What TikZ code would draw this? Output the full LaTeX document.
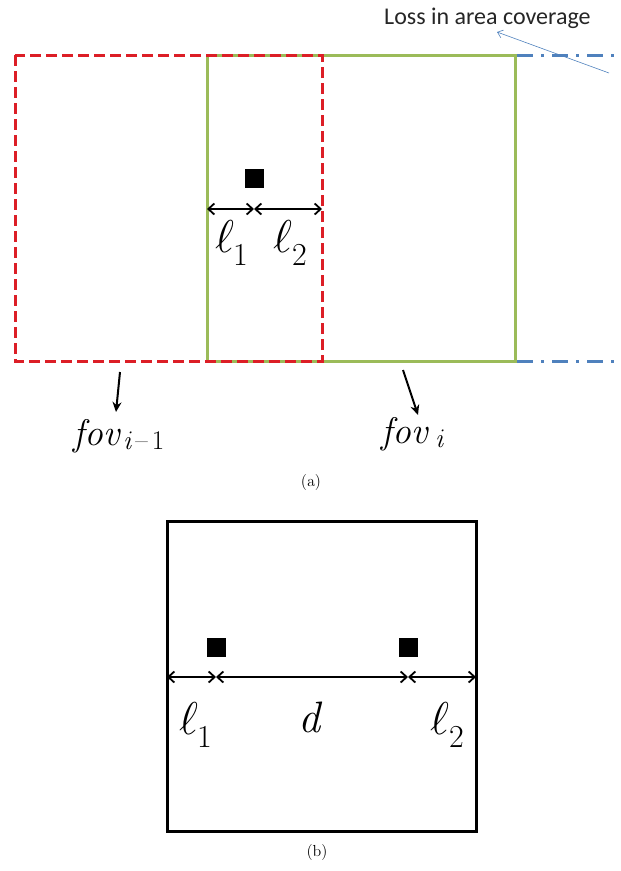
\documentclass[tikz,border=0pt]{standalone}
\usepackage{fix-cm}
\usepackage{fontspec}
\setmainfont{Liberation Serif}
\newfontfamily\calib{Carlito}
\newcommand{\lmitalic}{\usefont{OT1}{cmr}{m}{it}}
\newcommand{\lmupright}{\usefont{OT1}{cmr}{m}{n}}
\usetikzlibrary{arrows.meta}
\definecolor{redfov}{RGB}{220,30,38}
\definecolor{greenfov}{RGB}{155,187,89}
\definecolor{bluefov}{RGB}{79,129,189}
\tikzset{
  x=1pt,y=-1pt,
  redframe/.style={draw=redfov,line width=3pt,dash pattern=on 11pt off 5pt},
  greenframe/.style={draw=greenfov,line width=3pt},
  blueline/.style={draw=bluefov,line width=3pt,dash pattern=on 16pt off 8pt on 3pt off 8pt},
  sensor/.style={fill=black,minimum size=19pt,inner sep=0pt},
  dimarrow/.style={line width=1.8pt,{Straight Barb[length=6pt,width=11pt]}-{Straight Barb[length=6pt,width=11pt]}},
  ptrarrow/.style={line width=2pt,-{Stealth[length=10pt,width=9pt]}},
  ellabel/.style={font=\fontsize{46}{50}\selectfont,inner sep=0pt,anchor=base west},
  sublabel/.style={font=\fontsize{32}{34}\lmupright,inner sep=0pt,anchor=base west},
  dlabel/.style={font=\fontsize{44}{48}\lmitalic,inner sep=0pt,anchor=base west},
  fovlabel/.style={font=\fontsize{37}{40}\lmitalic,inner sep=0pt,anchor=base west},
  fovsub/.style={font=\fontsize{27}{29}\lmitalic,inner sep=0pt,anchor=base west},
  caption/.style={font=\fontsize{16}{18}\lmupright,inner sep=0pt}
}
\begin{document}
\begin{tikzpicture}
\useasboundingbox (0,0) rectangle (621,871);
% (a)
\coordinate (r1) at (15,55); \coordinate (r2) at (322,361);
\coordinate (g1) at (207,55); \coordinate (g2) at (515,361);
\draw[greenframe] (g1) rectangle (g2);
\draw[redframe] (r1) rectangle (r2);
\coordinate (bt1) at (517,55); \coordinate (bt2) at (621,55);
\coordinate (bb1) at (517,361); \coordinate (bb2) at (621,361);
\draw[blueline] (bt1) -- (bt2);
\draw[blueline] (bb1) -- (bb2);
\node[anchor=base west,inner sep=0pt,font=\calib\fontsize{24}{28}\selectfont,text=black!85] (loss) at (384,24) {Loss in area coverage};
\coordinate (lossTail) at (609,73);
\coordinate (lossTip) at (497,32);
\draw[bluefov,line width=0.6pt,-{Straight Barb[length=5pt,width=8pt]}] (lossTail) -- (lossTip);
\node[sensor] (s0) at (254.5,178.5) {};
\coordinate (aL) at (207,209); \coordinate (aM) at (254,209); \coordinate (aR) at (322,209);
\draw[dimarrow] (aL) -- (aM);
\draw[dimarrow] (aM) -- (aR);
\node[ellabel] (la1) at (215,252) {$\ell$};
\node[sublabel] (la1s) at (233,265) {1};
\node[ellabel] (la2) at (273,252) {$\ell$};
\node[sublabel] (la2s) at (292,265) {2};
\coordinate (p1a) at (120,372); \coordinate (p1b) at (116,412);
\coordinate (p2a) at (403,370); \coordinate (p2b) at (418,415);
\draw[ptrarrow] (p1a) -- (p1b);
\draw[ptrarrow] (p2a) -- (p2b);
\node[fovlabel] (fov1) at (73,445) {fov};
\node[fovsub] (fov1s) at (123,449) {i{\lmupright\,--\,1}};
\node[fovlabel] (fov2) at (381,443) {fov};
\node[fovsub] (fov2s) at (435,447) {i};
\node[caption] (capa) at (311,482) {(a)};
% (b)
\coordinate (b1) at (167,521); \coordinate (b2) at (476,831);
\draw[line width=3pt] (b1) rectangle (b2);
\node[sensor] (s1) at (216,647) {};
\node[sensor] (s2) at (408,647) {};
\coordinate (cL) at (167,677); \coordinate (cM1) at (216,677);
\coordinate (cM2) at (408,677); \coordinate (cR) at (476,677);
\draw[dimarrow] (cL) -- (cM1);
\draw[dimarrow] (cM1) -- (cM2);
\draw[dimarrow] (cM2) -- (cR);
\node[ellabel] (lb1) at (179,734) {$\ell$};
\node[sublabel] (lb1s) at (197,747) {1};
\node[dlabel] (lbd) at (298,732) {d};
\node[ellabel] (lb2) at (430,734) {$\ell$};
\node[sublabel] (lb2s) at (449,747) {2};
\node[caption] (capb) at (317,852) {(b)};
\end{tikzpicture}
\end{document}
